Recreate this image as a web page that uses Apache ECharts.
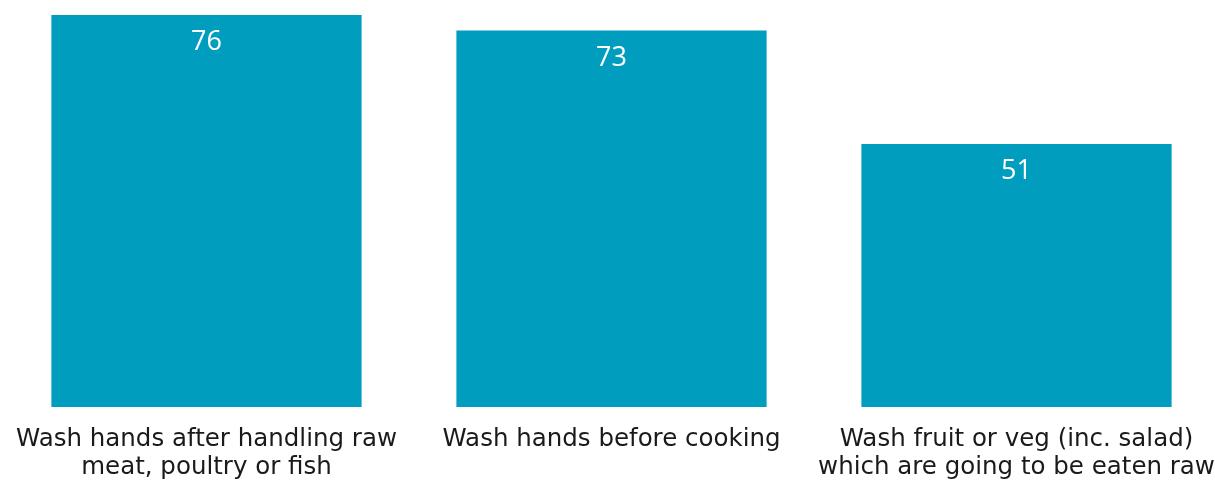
<!DOCTYPE html>
<html>
<head>
<meta charset="utf-8">
<script src="https://cdn.jsdelivr.net/npm/echarts@6/dist/echarts.min.js"></script>
<style>
  html, body { margin: 0; padding: 0; background: #ffffff; }
  #chart { width: 1215px; height: 481px; }
</style>
</head>
<body>
<div id="chart"></div>
<script>
// Food-hygiene habits: share of respondents (%) who always do each action
const categories = [
  'Wash hands after handling raw\nmeat, poultry or fish',
  'Wash hands before cooking',
  'Wash fruit or veg (inc. salad)\nwhich are going to be eaten raw'
];
const values = [76, 73, 51];

const chart = echarts.init(document.getElementById('chart'), null, { renderer: 'canvas' });

chart.setOption({
  animation: false,
  grid: {
    left: 4, top: 15, width: 1215, bottom: 74,
    containLabel: false,
    outerBoundsMode: 'none'
  },
  xAxis: {
    type: 'category',
    data: categories,
    axisLine: { show: false },
    axisTick: { show: false },
    axisLabel: {
      interval: 0,
      margin: 19,
      color: '#1a1a1a',
      fontFamily: "'DejaVu Sans', sans-serif",
      fontSize: 24.5,
      lineHeight: 28
    }
  },
  yAxis: {
    type: 'value',
    min: 0,
    max: 76,
    show: false,
    splitLine: { show: false }
  },
  series: [{
    type: 'bar',
    data: values,
    barWidth: '76.6%',
    itemStyle: { color: '#009DBF' },
    label: {
      show: true,
      position: 'insideTop',
      distance: 14,
      color: '#ffffff',
      fontFamily: "'Open Sans', sans-serif",
      fontSize: 27
    }
  }]
});
</script>
</body>
</html>
